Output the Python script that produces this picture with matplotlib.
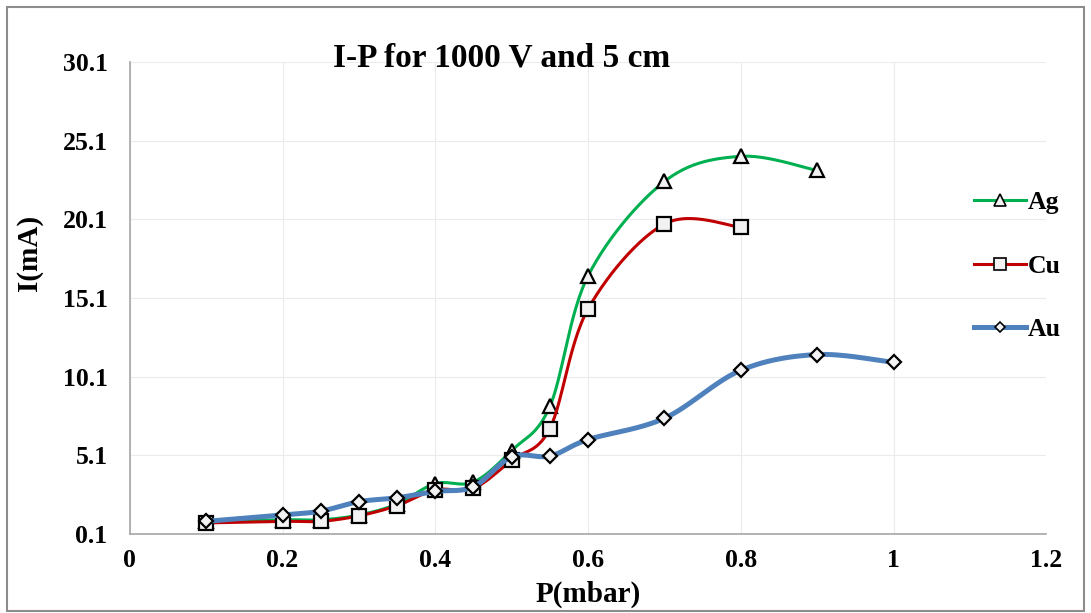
import matplotlib
matplotlib.use("Agg")
import matplotlib.pyplot as plt
import numpy as np
from matplotlib.lines import Line2D
from matplotlib.patches import Rectangle

# data
P_AG = [0.1, 0.2, 0.25, 0.3, 0.35, 0.4, 0.45, 0.5, 0.55, 0.6, 0.7, 0.8, 0.9]
I_AG = [0.9, 1.0, 1.0, 1.3, 2.0, 3.3, 3.4, 5.4, 8.2, 16.5, 22.5, 24.1, 23.2]

P_CU = [0.1, 0.2, 0.25, 0.3, 0.35, 0.4, 0.45, 0.5, 0.55, 0.6, 0.7, 0.8]
I_CU = [0.8, 0.9, 0.9, 1.25, 1.9, 2.9, 3.0, 4.8, 6.8, 14.4, 19.8, 19.6]

P_AU = [0.1, 0.2, 0.25, 0.3, 0.35, 0.4, 0.45, 0.5, 0.55, 0.6, 0.7, 0.8, 0.9, 1.0]
I_AU = [0.9, 1.3, 1.55, 2.15, 2.4, 2.8, 3.1, 5.0, 5.05, 6.1, 7.45, 10.5, 11.5, 11.0]

Y_TICKS = [0.1, 5.1, 10.1, 15.1, 20.1, 25.1, 30.1]
X_TICKS = [0, 0.2, 0.4, 0.6, 0.8, 1.0, 1.2]
X_LABELS = ["0", "0.2", "0.4", "0.6", "0.8", "1", "1.2"]

SERIF = "Liberation Serif"


def smooth(x, y, n=30):
    """Excel-style smoothed line (Catmull-Rom through the points)."""
    p = np.column_stack([x, y]).astype(float)
    p = np.vstack([p[0], p, p[-1]])
    out = []
    t = np.linspace(0, 1, n)[:, None]
    for i in range(1, len(p) - 2):
        p0, p1, p2, p3 = p[i - 1], p[i], p[i + 1], p[i + 2]
        c1 = p1 + (p2 - p0) / 6
        c2 = p2 - (p3 - p1) / 6
        seg = ((1 - t) ** 3 * p1 + 3 * (1 - t) ** 2 * t * c1
               + 3 * (1 - t) * t ** 2 * c2 + t ** 3 * p2)
        out.append(seg)
    s = np.vstack(out)
    return s[:, 0], s[:, 1]


fig = plt.figure(figsize=(10.91, 6.13), dpi=100)
ax = fig.add_axes([0.119, 0.129, 0.840, 0.770])

series = [
    ("Ag", P_AG, I_AG, "#00B050", 2.2, "^", 10, 2),
    ("Cu", P_CU, I_CU, "#C00000", 2.2, "s", 10, 3),
    ("Au", P_AU, I_AU, "#4F81BD", 3.6, "D", 7, 4),
]
handles = []
for name, xs, ys, col, lw, mk, ms, z in series:
    sx, sy = smooth(xs, ys)
    ax.plot(sx, sy, color=col, lw=lw, zorder=z, solid_capstyle="round")
    ax.plot(xs, ys, ls="none", marker=mk, ms=ms, mfc="#F2F2F2",
            mec="black", mew=1.6, zorder=z + 0.5)
    handles.append(Line2D([0], [0], color=col, lw=lw, marker=mk, ms=ms - 2,
                          mfc="#F2F2F2", mec="black", mew=1.2))

ax.set_xlim(0, 1.2)
ax.set_ylim(0.1, 30.1)
ax.set_xticks(X_TICKS)
ax.set_xticklabels(X_LABELS)
ax.set_yticks(Y_TICKS)
ax.grid(True, color="#EBEBEB", lw=0.8)
ax.set_axisbelow(True)
for side in ("top", "right"):
    ax.spines[side].set_visible(False)
for side in ("left", "bottom"):
    ax.spines[side].set_color("#A6A6A6")
    ax.spines[side].set_linewidth(1.2)
ax.tick_params(axis="y", length=0, pad=16)
ax.tick_params(axis="x", length=0, pad=11)
for lab in ax.get_xticklabels() + ax.get_yticklabels():
    lab.set_fontfamily(SERIF)
    lab.set_fontweight("bold")
    lab.set_fontsize(18.5)

ax.set_xlabel("P(mbar)", fontfamily=SERIF, fontweight="bold", fontsize=21,
              va="center")
ax.set_ylabel("I(mA)", fontfamily=SERIF, fontweight="bold", fontsize=21,
              va="center")
ax.xaxis.set_label_coords(0.5, -0.129)
ax.yaxis.set_label_coords(-0.109, 0.595)

fig.text(0.46, 0.905, "I-P for 1000 V and 5 cm", ha="center", va="center",
         fontfamily=SERIF, fontweight="bold", fontsize=24)

fig.legend(handles, ["Ag", "Cu", "Au"], loc="center left",
           bbox_to_anchor=(0.893, 0.566), frameon=False, borderpad=0,
           borderaxespad=0, handlelength=2.0, handletextpad=0.1,
           labelspacing=1.58,
           prop={"family": SERIF, "weight": "bold", "size": 18.5})

fig.patches.append(Rectangle((0.006, 0.003), 0.988, 0.985,
                             transform=fig.transFigure, fill=False,
                             edgecolor="#8C8C8C", lw=1.5))

fig.savefig("out.png", dpi=100)
